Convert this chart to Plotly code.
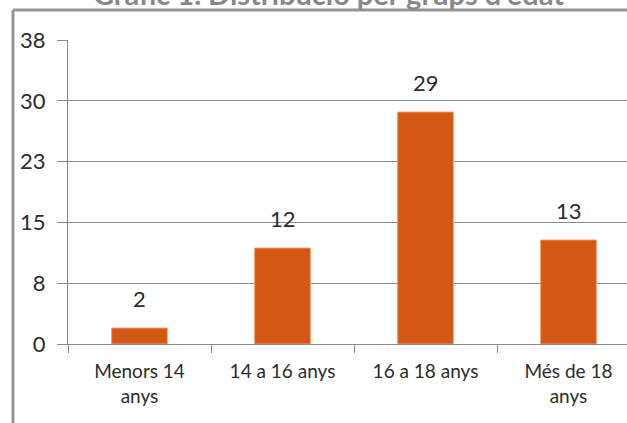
import plotly.graph_objects as go

categories = ["Menors 14<br>anys", "14 a 16 anys", "16 a 18 anys", "Més de 18<br>anys"]
values = [2, 12, 29, 13]
ytick_vals = [0, 7.6, 15.2, 22.8, 30.4, 38]
ytick_text = ["0", "8", "15", "23", "30", "38"]
title_text = "Gràfic 1. Distribució per grups d'edat"

FONT = "Lato"
W, H = 627, 423
L, T, B = 68, 40, 79
plot_w = W - L
plot_h = H - T - B
cat_px = 143.0

def px_x(p):
    return (p - L) / plot_w

def px_y(p):
    return (H - B - p) / plot_h

fig = go.Figure(go.Bar(
    x=categories, y=values,
    marker=dict(color="#D45716", line=dict(color="#F0A070", width=1)),
    hoverinfo="x+y",
))

label_annotations = [
    dict(x=c, y=v, xref="x", yref="y", text=str(v), showarrow=False,
         yanchor="bottom", yshift=14,
         font=dict(family=FONT, size=22, color="#2b2b2b"))
    for c, v in zip(categories, values)
]

fig.update_layout(
    width=W, height=H,
    margin=dict(l=L, r=0, t=T, b=B),
    paper_bgcolor="white", plot_bgcolor="white",
    showlegend=False, bargap=0.61,
    font=dict(family=FONT, size=19, color="#2b2b2b"),
    xaxis=dict(
        type="category",
        range=[-0.5, -0.5 + plot_w / cat_px],
        showgrid=False, showline=True, linecolor="#8c8c8c", linewidth=1,
        tickson="boundaries", ticks="outside", ticklen=8, tickcolor="#8c8c8c",
        ticklabelstandoff=10,
        tickfont=dict(family=FONT, size=19, color="#2b2b2b"),
    ),
    yaxis=dict(
        range=[0, 38], tickmode="array", tickvals=ytick_vals, ticktext=ytick_text,
        showgrid=True, gridcolor="#8a8a8a", gridwidth=1,
        showline=True, linecolor="#8a8a8a", linewidth=1,
        ticks="outside", ticklen=10, tickcolor="#8a8a8a",
        ticklabelstandoff=7,
        tickfont=dict(family=FONT, size=22, color="#2b2b2b"),
        zeroline=False,
    ),
    shapes=[
        dict(type="line", xref="paper", yref="paper",
             x0=px_x(13), x1=px_x(13), y0=px_y(10), y1=px_y(H + 10),
             line=dict(color="#959595", width=3)),
        dict(type="line", xref="paper", yref="paper",
             x0=px_x(13), x1=px_x(W + 10), y0=px_y(10), y1=px_y(10),
             line=dict(color="#959595", width=3)),
    ],
    annotations=label_annotations + [
        dict(text="<b>" + title_text + "</b>", xref="paper", yref="paper",
             x=px_x(328), y=px_y(-6), xanchor="center", yanchor="middle",
             showarrow=False, font=dict(family=FONT, size=29, color="#888888")),
    ],
)

fig.write_html(
    "out.html",
    config={"displayModeBar": False},
    post_script="document.documentElement.style.margin='0';document.body.style.margin='0';"
                "document.documentElement.style.overflow='hidden';document.body.style.overflow='hidden';",
)
